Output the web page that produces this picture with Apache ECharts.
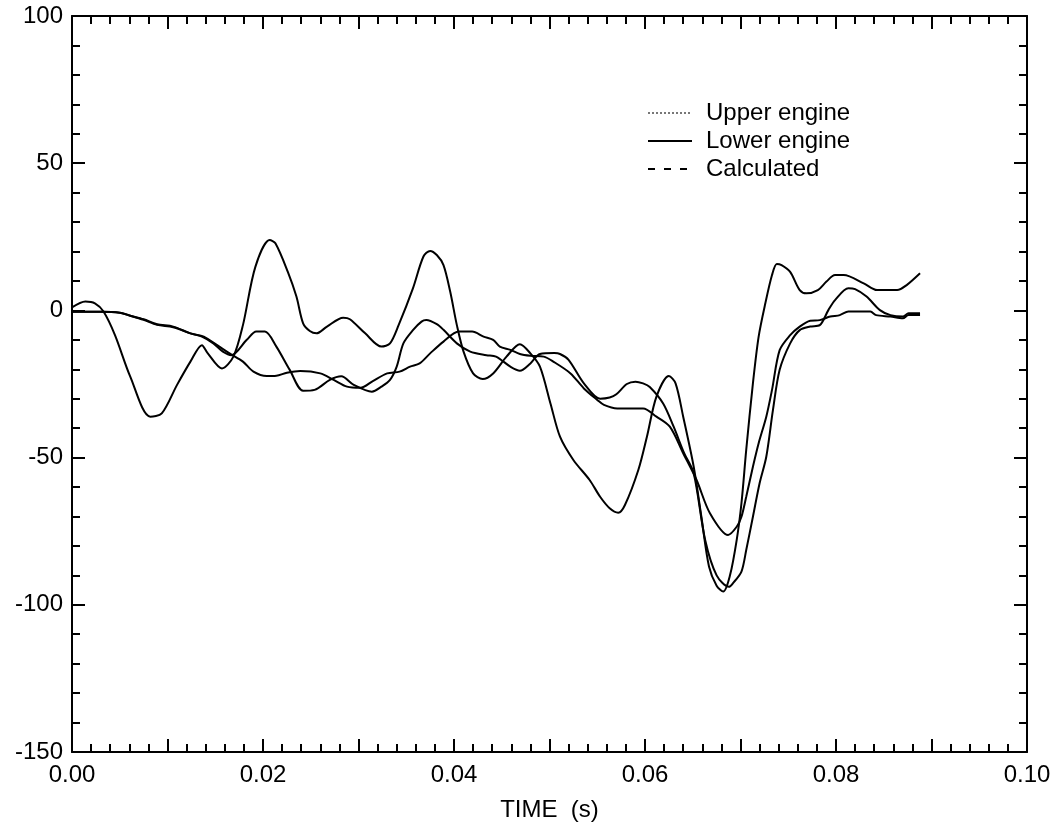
<!DOCTYPE html>
<html>
<head>
<meta charset="utf-8">
<script src="https://cdn.jsdelivr.net/npm/echarts@6/dist/echarts.min.js"></script>
<style>
html,body{margin:0;padding:0;background:#fff;}
#chart{width:1059px;height:836px;}
</style>
</head>
<body>
<div id="chart"></div>
<script>
// Series A (most oscillating)
const upperT = [0,0.0014,0.0024,0.0033,0.0045,0.0061,0.0082,0.0094,0.011,0.0124,0.0136,0.0142,0.0157,0.0169,0.0179,0.0192,0.0207,0.0213,0.0226,0.0235,0.0242,0.0249,0.0256,0.0267,0.0284,0.0291,0.0307,0.0324,0.0333,0.0342,0.0357,0.0368,0.0375,0.0382,0.0389,0.0396,0.0403,0.041,0.042,0.043,0.0441,0.0455,0.0469,0.048,0.049,0.0501,0.0511,0.0525,0.0542,0.0553,0.0563,0.0572,0.0579,0.0593,0.0602,0.0612,0.0625,0.0632,0.064,0.0651,0.0659,0.0667,0.0675,0.0682,0.0689,0.0696,0.0701,0.0706,0.0713,0.0719,0.0726,0.0733,0.0738,0.0743,0.0752,0.0762,0.0769,0.0781,0.079,0.0799,0.0808,0.0829,0.0843,0.0864,0.0874,0.0888];
const upperV = [1,3,2.4,-0.4,-8.4,-22.5,-36.1,-35,-25.3,-17.4,-11.8,-14.5,-19.7,-15.7,-5,14.8,23.9,22.8,13.1,4.7,-4.4,-7,-7.8,-5.5,-2.5,-3,-7.8,-12.3,-11.2,-5,7.5,18.3,20.2,18.8,15.4,6.4,-5,-14,-21.4,-23.3,-21.4,-15.7,-11.5,-14.6,-19.1,-31.6,-42.9,-50.8,-57.6,-63.3,-67.2,-68.7,-66.1,-54.2,-42.9,-29.3,-22.3,-24.8,-36.1,-53.1,-70,-87,-93.5,-95.5,-90,-78,-65.5,-47.4,-24.8,-8.9,2.4,12,15.8,15.4,13.1,6.9,5.8,6.9,9.8,12,12,9.2,6.9,6.9,8.6,12.6];

// Series B
const lowerT = [0,0.003,0.005,0.0061,0.0075,0.0089,0.0106,0.0124,0.0136,0.0148,0.0158,0.0167,0.0183,0.0193,0.0202,0.0214,0.0228,0.0242,0.0254,0.027,0.0282,0.0295,0.0314,0.0324,0.0333,0.034,0.0347,0.0357,0.0366,0.0371,0.0382,0.0389,0.0403,0.0417,0.0434,0.0444,0.0459,0.0469,0.048,0.049,0.0505,0.0511,0.052,0.0536,0.0553,0.0563,0.057,0.0581,0.059,0.0598,0.0605,0.0619,0.063,0.0641,0.0651,0.0663,0.0675,0.0688,0.0692,0.0701,0.0706,0.0713,0.072,0.0727,0.0734,0.0741,0.0752,0.0762,0.0773,0.0783,0.0792,0.0799,0.0813,0.082,0.0832,0.0846,0.0857,0.087,0.0876,0.0888];
const lowerV = [-0.5,-0.5,-0.8,-1.8,-3.2,-4.9,-5.7,-7.8,-8.9,-11.2,-14,-15.2,-10,-7.2,-7.2,-12.3,-20.2,-27.3,-27,-23.6,-22.4,-25.3,-27.6,-25.9,-23.6,-19.1,-11.2,-6.7,-3.8,-3.3,-4.7,-6.6,-11.2,-14,-15.2,-15.7,-19.1,-20.5,-18,-14.8,-14.5,-14.8,-16.8,-24.8,-30,-29.6,-28.5,-25,-24.2,-24.8,-26,-31.6,-39.5,-48.5,-55.3,-78,-90,-93.9,-92.7,-88.7,-81.4,-70.1,-58.7,-49.7,-33.8,-20.2,-11.2,-6.7,-5.5,-5,0.1,3.5,7.5,7.2,4.7,0.1,-1.6,-2.1,-1,-1];

// Series C (smoothest)
const calcT = [0,0.003,0.005,0.0061,0.0075,0.0089,0.0106,0.0124,0.0138,0.0152,0.0165,0.0179,0.019,0.0204,0.0214,0.0225,0.0239,0.026,0.0274,0.0288,0.0302,0.0315,0.033,0.0343,0.0354,0.0364,0.0375,0.0389,0.0405,0.0419,0.0431,0.0441,0.0448,0.0459,0.0469,0.048,0.0494,0.0504,0.0522,0.0536,0.055,0.0557,0.0571,0.0598,0.0612,0.0626,0.064,0.0654,0.0668,0.0687,0.0696,0.0701,0.0706,0.0713,0.0719,0.0727,0.0733,0.0741,0.0752,0.0762,0.0773,0.0783,0.0794,0.0804,0.0813,0.0836,0.0842,0.0857,0.087,0.0876,0.0888];
const calcV = [-0.5,-0.5,-0.8,-1.8,-3,-4.7,-5.5,-7.8,-8.9,-11.8,-14.6,-17.4,-20.8,-22.3,-22.2,-21.2,-20.6,-21.4,-23.6,-25.9,-26.3,-24,-21.4,-20.8,-19.1,-18,-14.6,-10.6,-7.2,-7.2,-8.9,-10,-12.3,-13.4,-14.8,-15.4,-15.7,-17.4,-21.4,-26.5,-30.4,-32.1,-33.3,-33.3,-36.1,-39.5,-48.5,-57.6,-68.9,-76.3,-73.5,-70.1,-63.3,-53.1,-45.1,-36.1,-27,-13.5,-8.4,-5.5,-3.5,-3.3,-2.1,-1.6,-0.4,-0.4,-1.6,-2.1,-2.7,-1.6,-1.6];

const seriesNames = ['Upper engine','Lower engine','Calculated'];
const xTicks = {min:0, max:0.1, interval:0.01};
const yTicks = {min:-150, max:100, interval:50};

function pairs(t, v){ return t.map((x,i)=>[x, v[i]]); }

const FONT = '"Liberation Sans", Arial, Helvetica, sans-serif';
const chart = echarts.init(document.getElementById('chart'), null, {renderer:'canvas'});

function axisCommon(showLabel, isX){
  return {
    type:'value',
    min: isX ? xTicks.min : yTicks.min,
    max: isX ? xTicks.max : yTicks.max,
    interval: isX ? xTicks.interval : yTicks.interval,
    splitLine:{show:false},
    axisLine:{show:true, onZero:false, lineStyle:{color:'#000', width:2}},
    axisTick:{show:true, inside:true, length:13, lineStyle:{color:'#000', width:2}},
    minorTick:{show:true, splitNumber:5, length:8, lineStyle:{color:'#000', width:2}},
    axisLabel:{show:showLabel, color:'#000', fontSize:24, fontFamily:FONT}
  };
}

const xBottom = axisCommon(true, true);
xBottom.position = 'bottom';
xBottom.axisLabel.margin = 11;
xBottom.axisLabel.formatter = function(v){
  const k = Math.round(v*100);
  return (k % 2 === 0) ? (k/100).toFixed(2) : '';
};
xBottom.name = 'TIME  (s)';
xBottom.nameLocation = 'middle';
xBottom.nameGap = 46;
xBottom.nameTextStyle = {color:'#000', fontSize:24, fontFamily:FONT};

const xTop = axisCommon(false, true);
xTop.position = 'top';

const yLeft = axisCommon(true, false);
yLeft.position = 'left';
yLeft.axisLabel.margin = 9;

const yRight = axisCommon(false, false);
yRight.position = 'right';

const dataSets = [pairs(upperT, upperV), pairs(lowerT, lowerV), pairs(calcT, calcV)];

const legendStyles = [
  {type:[2,2], width:1, color:'#777'},
  {type:'solid', width:2, color:'#000'},
  {type:[7,9], width:2, color:'#000'}
];

const dataSeries = seriesNames.map((n,i)=>({
  name:n + ' data',
  type:'line',
  xAxisIndex:0,
  yAxisIndex:0,
  data:dataSets[i],
  symbol:'none',
  showSymbol:false,
  smooth:0.3,
  lineStyle:{color:'#000', width:2},
  itemStyle:{color:'#000'}
}));

const legendSeries = seriesNames.map((n,i)=>({
  name:n,
  type:'line',
  data:[],
  symbol:'none',
  showSymbol:false,
  lineStyle:legendStyles[i],
  itemStyle:{color:legendStyles[i].color}
}));

chart.setOption({
  animation:false,
  backgroundColor:'#fff',
  grid:{left:72, right:32, top:16, bottom:84, containLabel:false},
  xAxis:[xBottom, xTop],
  yAxis:[yLeft, yRight],
  legend:{
    orient:'vertical',
    left:642,
    top:94,
    itemWidth:44,
    itemHeight:14,
    itemGap:0,
    selectedMode:false,
    itemStyle:{opacity:0, borderWidth:0},
    data:seriesNames,
    textStyle:{color:'#000', fontSize:24, fontFamily:FONT, lineHeight:28, padding:[0,0,0,9]}
  },
  series: dataSeries.concat(legendSeries)
});
</script>
</body>
</html>
